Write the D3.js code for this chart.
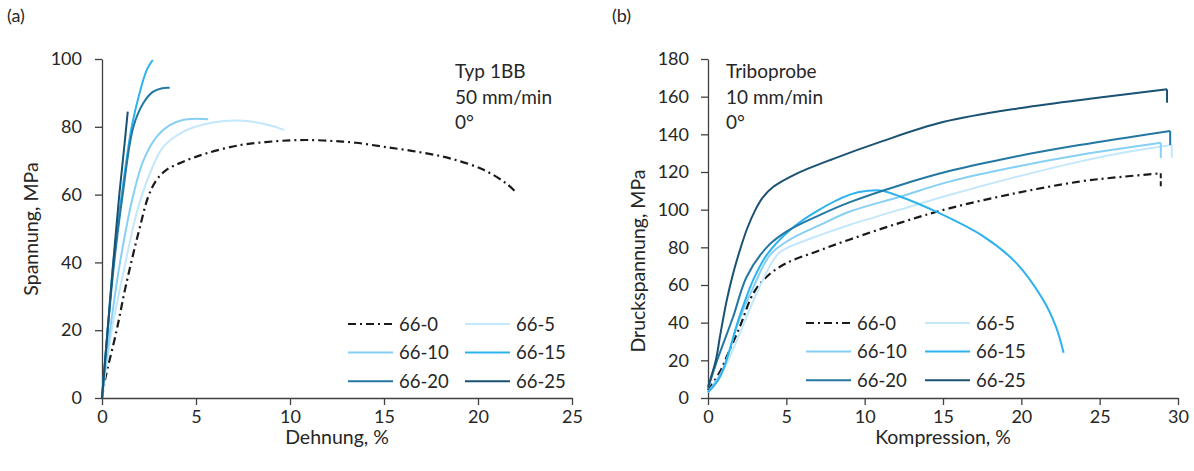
<!DOCTYPE html>
<html><head><meta charset="utf-8">
<script src="https://cdn.jsdelivr.net/npm/d3@7"></script>
<style>
body{margin:0;background:#fff;}
svg{display:block;font-family:Lato, "Open Sans", sans-serif;}
text{fill:#262626;}
</style></head><body>
<svg id="c" width="1194" height="471"></svg>
<script>
// ---------- data ----------
const seriesNames = ["66-0","66-5","66-10","66-15","66-20","66-25"];
const seriesColors = ["#1a1a1a","#c3e7fb","#86d0f5","#2cb2ef","#2377a3","#1a5272"];

// (a) Zugversuch: Dehnung % vs Spannung MPa
const tens0  = [[0,0],[0.16,5.3],[0.78,20],[1.22,31.9],[1.67,42.7],[2.02,50.5],[2.46,59.4],[2.9,64.3],[3.43,67.3],[4.32,69.7],[5.57,72.2],[7.34,74.6],[8.7,75.5],[10,76],[11,76.1],[12.3,75.8],[13.5,75.3],[15,74.1],[16.7,72.7],[18.5,70.7],[20.3,67.3],[21.5,63.3],[22.05,60.5]];
const tens5  = [[0,0],[0.52,20],[1.13,36.8],[1.84,54.5],[2.55,66.3],[3.26,74.1],[4.33,78.6],[5.5,80.8],[6.5,81.7],[7.5,81.8],[8.5,81],[9.2,80],[9.7,79]];
const tens10 = [[0,0],[0.43,20],[0.96,40],[1.67,60],[2.2,70],[2.9,77],[3.6,80.5],[4.3,82],[5,82.4],[5.65,82.2]];
const tens15 = [[0,0],[0.3,20],[0.6,40],[1.05,60],[1.58,80],[2.0,90],[2.4,97],[2.7,99.7]];
const tens20 = [[0,0],[0.3,20],[0.65,40],[1.1,60],[1.67,80],[2.2,87],[2.7,90.3],[3.2,91.4],[3.6,91.5]];
const tens25 = [[0,0],[0.3,20],[0.6,40],[0.92,60],[1.2,75],[1.37,84.5]];
const tensXTicks = [0,5,10,15,20,25];
const tensYTicks = [0,20,40,60,80,100];

// (b) Druckversuch: Kompression % vs Druckspannung MPa
const comp0  = [[0,4],[0.77,14],[1.2,22],[2.04,38],[2.9,55.7],[3.75,64.4],[5,71.6],[6.9,77.7],[9.06,84.2],[12.25,93],[15.4,100.7],[19.5,108.5],[23.7,114.9],[26.5,117.5],[28.9,119.3]];
const comp5  = [[0,3],[1,15],[2.04,34.5],[3.1,55.6],[4.15,73],[4.6,77.5],[5,79.5],[7.15,86.5],[9.06,92],[12.25,100],[15.4,107.8],[19.5,117],[23.7,125.5],[27,131],[29.6,134.3]];
const comp10 = [[0,3],[1,16],[1.83,37.9],[2.9,59],[3.96,76],[5.2,84],[7.15,91.9],[9.06,99],[12.25,106.9],[15.4,114.9],[19.5,122.5],[23.7,129],[28.9,135.5]];
const comp15 = [[0,3],[0.77,11.3],[2.04,44],[2.9,63],[3.75,76],[5.2,89],[6.9,99],[9.06,108],[10.2,110],[11,110.2],[12.25,107],[14.8,98],[17.6,85.7],[19.7,71.5],[21.4,52],[22.2,38],[22.7,24]];
const comp20 = [[0,5],[0.5,18],[1.6,43],[2.47,64.4],[3.75,80],[5,88.3],[7.15,97.2],[9.06,104],[12.25,113],[15.4,120.5],[19.5,128],[23.7,134.3],[29.5,141.8]];
const comp25 = [[0,6],[0.5,20],[0.77,33],[1.2,52],[1.6,66],[2.04,78.6],[2.5,90],[3.0,99.5],[3.5,106.5],[4.15,112],[5.5,118.5],[8,127],[11,136],[15,146.5],[20,154],[25,159.5],[29.3,163.9]];
const compDrop = [111.3,127.6,127.5,null,134.3,156.8];
const compXTicks = [0,5,10,15,20,25,30];
const compYTicks = [0,20,40,60,80,100,120,140,160,180];

const tensData = [tens0,tens5,tens10,tens15,tens20,tens25];
const compData = [comp0,comp5,comp10,comp15,comp20,comp25];

// ---------- drawing ----------
const svg = d3.select("#c");
const dashDot = "8,4,2,4";

function panel(o){
  const x = d3.scaleLinear().domain(o.xDom).range(o.xRange);
  const y = d3.scaleLinear().domain(o.yDom).range(o.yRange);
  const g = svg.append("g");
  const ax = g.append("g").attr("transform",`translate(0,${o.yRange[0]})`)
    .call(d3.axisBottom(x).tickValues(o.xTicks).tickSize(7).tickPadding(5).tickSizeOuter(0));
  const ay = g.append("g").attr("transform",`translate(${o.xRange[0]},0)`)
    .call(d3.axisLeft(y).tickValues(o.yTicks).tickSize(7).tickPadding(o.yPad).tickSizeOuter(0));
  [ax,ay].forEach(a=>{
    a.selectAll("path,line").attr("stroke","#404040").attr("stroke-width",1.3);
    a.selectAll("text").attr("font-size",18).attr("fill","#262626").style("font-family","Lato, sans-serif");
  });
  const line = d3.line().x(d=>x(d[0])).y(d=>y(d[1])).curve(d3.curveCatmullRom.alpha(0.5));
  o.data.forEach((s,i)=>{
    g.append("path").datum(s).attr("d",line).attr("fill","none")
      .attr("stroke",seriesColors[i]).attr("stroke-width",i===0?2.2:2)
      .attr("stroke-dasharray",i===0?dashDot:null);
    if(o.drops && o.drops[i]!=null){
      const last = s[s.length-1];
      g.append("line").attr("x1",x(last[0])).attr("x2",x(last[0]))
        .attr("y1",y(last[1])).attr("y2",y(o.drops[i]))
        .attr("stroke",seriesColors[i]).attr("stroke-width",2)
        .attr("stroke-dasharray",i===0?"5,3":null);
    }
  });
  // axis titles
  g.append("text").attr("x",o.xTitlePos[0]).attr("y",o.xTitlePos[1]).attr("text-anchor","middle")
    .attr("font-size",19.5).text(o.xTitle);
  g.append("text").attr("transform",`translate(${o.yTitlePos[0]},${o.yTitlePos[1]}) rotate(-90)`)
    .attr("text-anchor","middle").attr("font-size",19.5).text(o.yTitle);
  // annotation
  o.note.forEach((t,k)=>g.append("text").attr("x",o.notePos[0]).attr("y",o.notePos[1]+k*25.5)
    .attr("font-size",19).text(t));
  // panel label
  g.append("text").attr("x",o.labelPos[0]).attr("y",o.labelPos[1]).attr("font-size",18).text(o.label);
  // legend
  seriesNames.forEach((n,i)=>{
    const col=i%2,row=Math.floor(i/2);
    const lx=o.legPos[0]+col*o.legColW, ly=o.legPos[1]+row*28.6;
    g.append("line").attr("x1",lx).attr("x2",lx+45).attr("y1",ly).attr("y2",ly)
      .attr("stroke",seriesColors[i]).attr("stroke-width",2)
      .attr("stroke-dasharray",i===0?dashDot:null);
    g.append("text").attr("x",lx+51).attr("y",ly+6.5).attr("font-size",18.5).text(n);
  });
}

panel({xDom:[0,25],xRange:[102,572],yDom:[0,100],yRange:[398,59],
  xTicks:tensXTicks,yTicks:tensYTicks,yPad:13,data:tensData,
  xTitle:"Dehnung, %",xTitlePos:[337,444],yTitle:"Spannung, MPa",yTitlePos:[38,229],
  note:["Typ 1BB","50 mm/min","0°"],notePos:[455,78],label:"(a)",labelPos:[7,22],
  legPos:[348,324],legColW:117});

panel({xDom:[0,30],xRange:[708,1178],yDom:[0,180],yRange:[398,59],
  xTicks:compXTicks,yTicks:compYTicks,yPad:12,data:compData,drops:compDrop,
  xTitle:"Kompression, %",xTitlePos:[943,444],yTitle:"Druckspannung, MPa",yTitlePos:[645,261],
  note:["Triboprobe","10 mm/min","0°"],notePos:[726,78],label:"(b)",labelPos:[612,22],
  legPos:[806,323],legColW:119});
</script>
</body></html>
